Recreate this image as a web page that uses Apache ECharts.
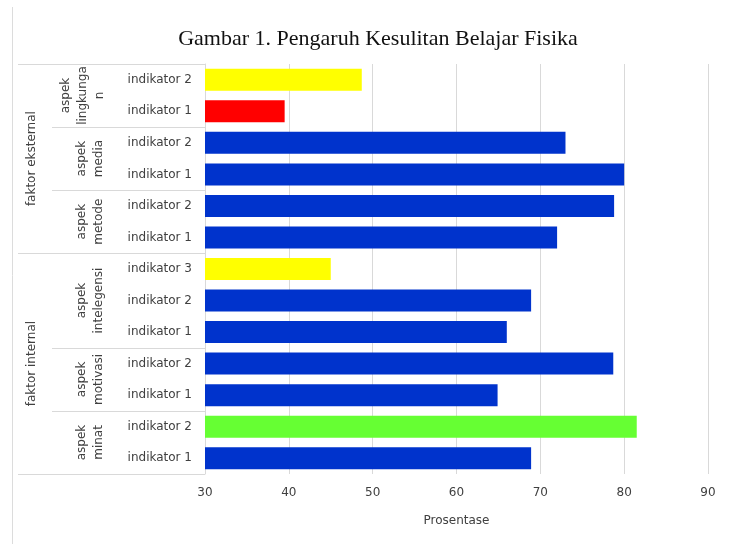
<!DOCTYPE html>
<html>
<head>
<meta charset="utf-8">
<script src="https://cdn.jsdelivr.net/npm/echarts@6/dist/echarts.min.js"></script>
<style>html,body{margin:0;padding:0;background:#fff;}#c{width:737px;height:544px;}</style>
</head>
<body>
<div id="c"></div>
<script>
// ---- data ----
var titleText = 'Gambar 1. Pengaruh Kesulitan Belajar Fisika';
var indicators = ['indikator 2','indikator 1','indikator 2','indikator 1','indikator 2','indikator 1','indikator 3','indikator 2','indikator 1','indikator 2','indikator 1','indikator 2','indikator 1'];
var values = [48.7, 39.5, 73.0, 80.0, 78.8, 72.0, 45.0, 68.9, 66.0, 78.7, 64.9, 81.5, 68.9];
var barColors = ['#ffff00','#ff0000','#0033cc','#0033cc','#0033cc','#0033cc','#ffff00','#0033cc','#0033cc','#0033cc','#0033cc','#66ff33','#0033cc'];
var aspectNames = ['aspek\nlingkunga\nn','aspek\nmedia','aspek\nmetode','aspek\nintelegensi','aspek\nmotivasi','aspek\nminat'];
var aspectSizes = [2,2,2,3,2,2];
var factorNames = ['faktor eksternal','faktor internal'];
var factorSizes = [3,3];
var xTicks = [30,40,50,60,70,80,90];
var xName = 'Prosentase';

var chart = echarts.init(document.getElementById('c'));
var LINE = '#d9d9d9';
var TXT = '#404040';
var FONT = 'DejaVu Sans';

chart.setOption({
  backgroundColor: '#fff',
  animation: false,
  title: {
    text: titleText, left: 373, top: 23, textAlign: 'center',
    textStyle: {fontFamily: 'Liberation Serif', fontSize: 22, fontWeight: 'normal', color: '#111'}
  },
  grid: {left: 205, right: 29, top: 64, bottom: 70},
  xAxis: {
    type: 'value', min: xTicks[0], max: xTicks[xTicks.length-1], interval: 10,
    name: xName, nameLocation: 'middle', nameGap: 41,
    nameTextStyle: {fontFamily: FONT, fontSize: 12, color: TXT},
    axisLine: {show: false}, axisTick: {show: false},
    axisLabel: {fontFamily: FONT, fontSize: 12, color: TXT, margin: 13},
    splitLine: {lineStyle: {color: LINE, width: 1}}
  },
  yAxis: {
    type: 'category', inverse: true,
    data: indicators.map(function(_, i){ return String(i); }),
    axisLine: {show: true, lineStyle: {color: LINE}},
    axisTick: {show: false},
    axisLabel: {fontFamily: FONT, fontSize: 12, color: TXT, margin: 13,
      formatter: function(v){ return indicators[+v]; }}
  },
  series: [{
    type: 'bar', barWidth: 22,
    data: values.map(function(v, i){ return {value: v, itemStyle: {color: barColors[i]}}; })
  }]
});

// ---- multi-level category labels & separators ----
function yPix(i){ return chart.convertToPixel({yAxisIndex: 0}, i); }
var band = yPix(1) - yPix(0);
var topY = yPix(0) - band/2;
function bound(k){ return topY + band*k; }
var axisX = chart.convertToPixel({xAxisIndex: 0}, xTicks[0]);
var els = [];
function hline(x1, y, x2){
  els.push({type:'line', shape:{x1:x1, y1:Math.round(y)+0.5, x2:x2, y2:Math.round(y)+0.5}, style:{stroke:LINE, lineWidth:1}, silent:true});
}
// outer page border
els.push({type:'line', shape:{x1:12.5, y1:7, x2:12.5, y2:544}, style:{stroke:'#dcdcdc', lineWidth:1}, silent:true});
hline(18, bound(0), axisX);
var k = 0, ai = 0;
for (var f = 0; f < factorNames.length; f++) {
  var fStart = k;
  for (var a = 0; a < factorSizes[f]; a++, ai++) {
    var aStart = k;
    k += aspectSizes[ai];
    var nl = aspectNames[ai].split('\n').length;
    els.push({type:'text', x: 90 - (nl-2)*7, y: (bound(aStart)+bound(k))/2, rotation: Math.PI/2,
      style:{text: aspectNames[ai], fill: TXT, font: '12px ' + FONT, align:'center', verticalAlign:'middle', lineHeight: 17}, silent:true});
    if (a < factorSizes[f]-1) hline(52, bound(k), axisX);
  }
  els.push({type:'text', x: 32, y: (bound(fStart)+bound(k))/2, rotation: Math.PI/2,
    style:{text: factorNames[f], fill: TXT, font: '12px ' + FONT, align:'center', verticalAlign:'middle'}, silent:true});
  hline(18, bound(k), axisX);
}
chart.setOption({graphic: {elements: els}});
</script>
</body>
</html>
